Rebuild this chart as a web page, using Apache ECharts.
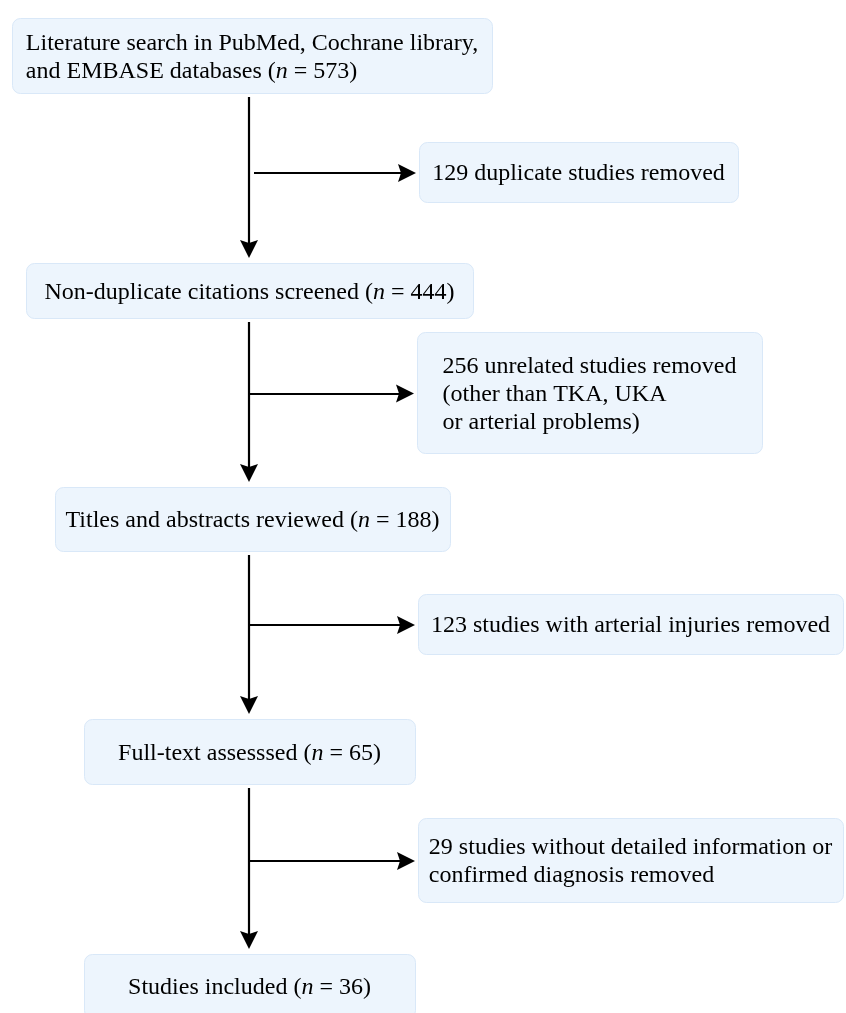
<!DOCTYPE html>
<html>
<head>
<meta charset="utf-8">
<script src="https://cdn.jsdelivr.net/npm/echarts@6/dist/echarts.min.js"></script>
<style>
html, body { margin: 0; padding: 0; background: #fff; }
#main { width: 846px; height: 1013px; }
</style>
</head>
<body>
<div id="main"></div>
<script>
// stages down the main line
var stageNames = [
    'Literature search in PubMed, Cochrane library,\nand EMBASE databases',
    'Non-duplicate citations screened',
    'Titles and abstracts reviewed',
    'Full-text assesssed',
    'Studies included'
];
var stageCounts = [573, 444, 188, 65, 36];

// removed at each step (right hand boxes)
var removedCounts = [129, 256, 123, 29];
var removedReasons = [
    'duplicate studies removed',
    'unrelated studies removed\n(other than TKA, UKA\nor arterial problems)',
    'studies with arterial injuries removed',
    'studies without detailed information or\nconfirmed diagnosis removed'
];

// layout in page px : [left, top, width, height]
// last box runs past the bottom edge, as in the original crop
var stageBoxes = [[12, 18, 480, 75], [26, 263, 447, 55], [55, 487, 395, 64], [84, 719, 331, 65], [84, 954, 331, 64]];
var removedBoxes = [[419, 142, 319, 60], [417, 332, 345, 121], [418, 594, 425, 60], [418, 818, 425, 84]];
var spineX = 249;
var branchStartX = [254, 249, 249, 249];
var headLen = 18;
var textDrop = 2; // serif glyphs sit a bit high when centred

var FONT = '"Liberation Serif", "Times New Roman", serif';

// every line is a token so lines stay left aligned inside a centred block
function toRich(str) {
    return str.split('\n').map(function (l) { return '{t|' + l + '}'; }).join('\n');
}

var boxTexts = [];
var allBoxes = [];
stageNames.forEach(function (name, i) {
    boxTexts.push(toRich(name) + '{t| (}{i|n}{t| = ' + stageCounts[i] + ')}');
    allBoxes.push(stageBoxes[i]);
});
removedReasons.forEach(function (reason, i) {
    boxTexts.push(toRich(removedCounts[i] + ' ' + reason));
    allBoxes.push(removedBoxes[i]);
});

// arrows: main line between stages, then branches to removed boxes
var arrows = [];
for (var i = 0; i < stageBoxes.length - 1; i++) {
    var y1 = stageBoxes[i][1] + stageBoxes[i][3] + 4;
    var tip = stageBoxes[i + 1][1] - 5;
    arrows.push({ coords: [[spineX, y1], [spineX, tip - headLen / 2]] });
}
removedBoxes.forEach(function (b, i) {
    var y = b[1] + b[3] / 2 + 1;
    var tipX = b[0] - 3;
    arrows.push({ coords: [[branchStartX[i], y], [tipX - headLen / 2, y]] });
});

var richStyle = {
    t: { fontFamily: FONT, fontSize: 24, lineHeight: 28, color: '#0d0d0d', align: 'left' },
    i: { fontFamily: FONT, fontSize: 24, lineHeight: 28, color: '#0d0d0d', align: 'left', fontStyle: 'italic' }
};

var option = {
    animation: false,
    backgroundColor: '#fff',
    grid: { left: 0, right: 0, top: 0, bottom: 0 },
    xAxis: { type: 'value', min: 0, max: 846, show: false },
    yAxis: { type: 'value', min: 0, max: 1013, inverse: true, show: false },
    series: [
        {
            type: 'custom',
            coordinateSystem: 'cartesian2d',
            encode: { x: 0, y: 1 },
            data: allBoxes,
            renderItem: function (params, api) {
                var p = api.coord([api.value(0), api.value(1)]);
                var s = api.size([api.value(2), api.value(3)]);
                return {
                    type: 'group',
                    children: [
                        {
                            type: 'rect',
                            shape: { x: p[0] + 0.5, y: p[1] + 0.5, width: s[0], height: s[1], r: 8 },
                            style: { fill: '#edf5fd', stroke: '#d9e8f8', lineWidth: 1 }
                        },
                        {
                            type: 'text',
                            x: p[0] + s[0] / 2,
                            y: p[1] + s[1] / 2 + textDrop,
                            style: {
                                text: boxTexts[params.dataIndex],
                                align: 'center',
                                verticalAlign: 'middle',
                                rich: richStyle
                            }
                        }
                    ]
                };
            }
        },
        {
            type: 'lines',
            coordinateSystem: 'cartesian2d',
            symbol: ['none', 'path://M5,0 L10,18 L5,15 L0,18 Z'],
            symbolSize: [13, headLen],
            lineStyle: { color: '#000', width: 2.2, opacity: 1, curveness: 0 },
            itemStyle: { color: '#000' },
            data: arrows
        }
    ]
};

var chart = echarts.init(document.getElementById('main'));
chart.setOption(option);
</script>
</body>
</html>
